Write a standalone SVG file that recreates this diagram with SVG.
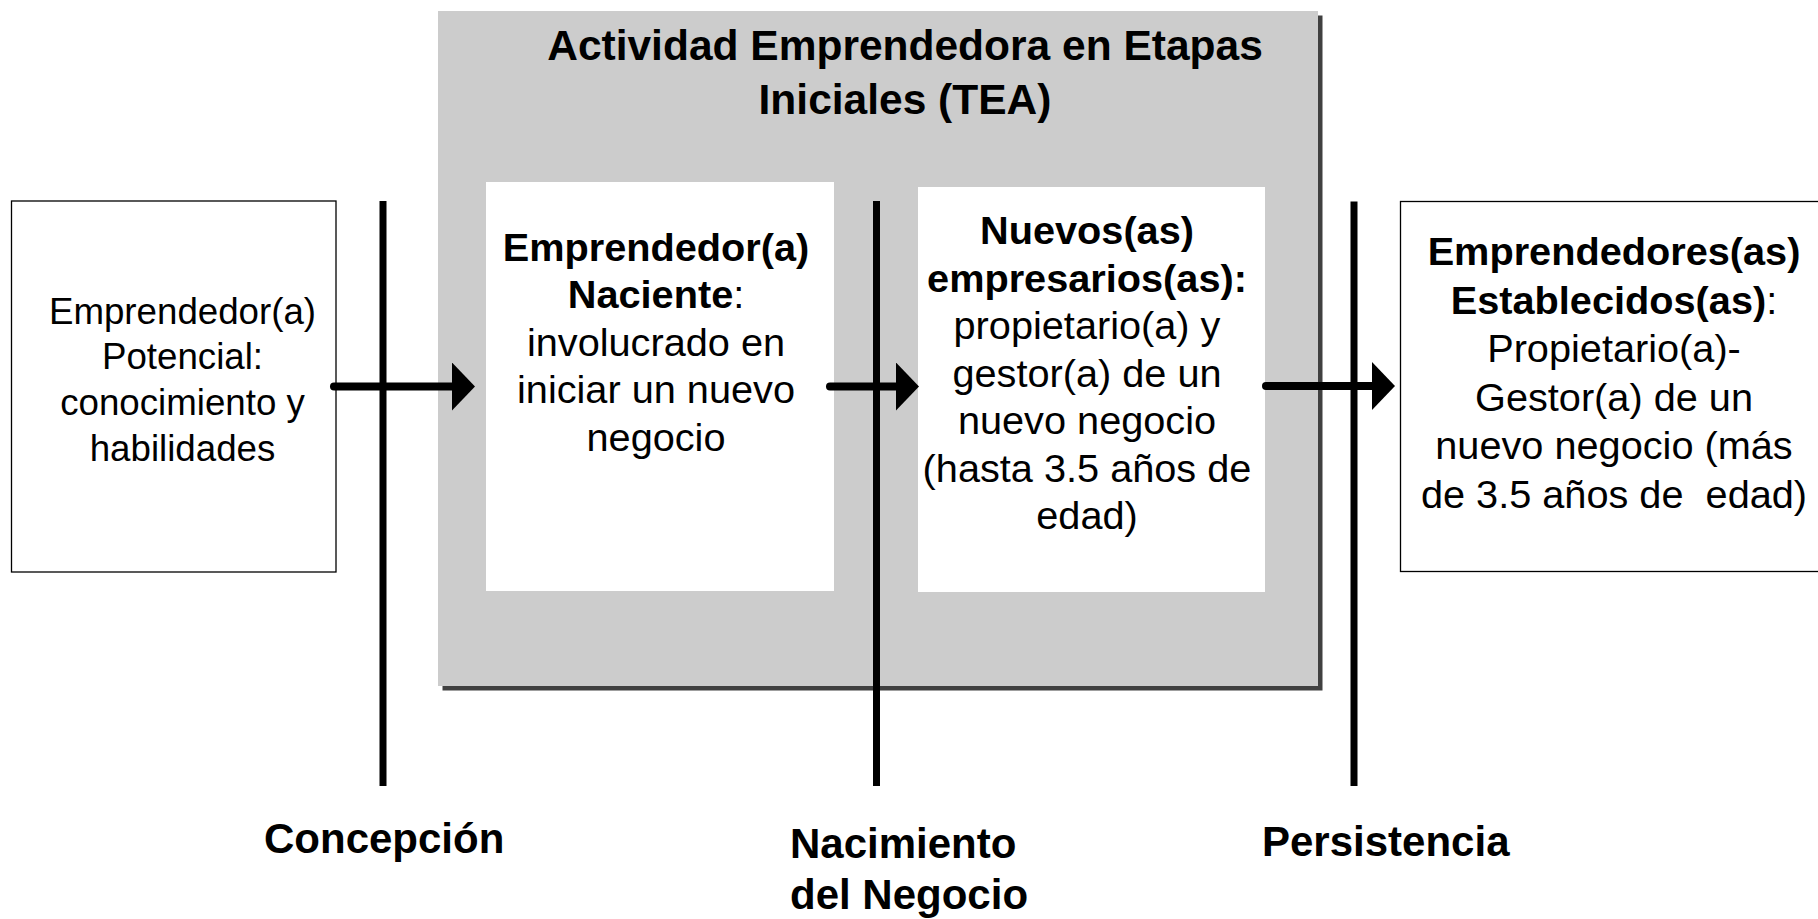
<svg xmlns="http://www.w3.org/2000/svg" width="1818" height="919" viewBox="0 0 1818 919">
<style>
text{font-family:"Liberation Sans",Arial,Helvetica,sans-serif;fill:#000}
.b{font-weight:bold}
.body{font-size:39.7px;text-anchor:middle}
.small{font-size:36.7px;text-anchor:middle}
.title{font-size:42.5px;font-weight:bold;text-anchor:middle}
.lbl{font-size:42px;font-weight:bold}
.box{fill:#fff;stroke:#000;stroke-width:1.3}
.inner{fill:#fff}
.vline{stroke:#000;stroke-width:7}
.arr{stroke:#000;stroke-width:8;stroke-linecap:round;fill:none}
</style>
<defs>
<marker id="ah" markerUnits="userSpaceOnUse" markerWidth="26" markerHeight="50" refX="0" refY="24" orient="auto">
<path d="M0,0 L23,24 L0,48 Z" fill="#000"/>
</marker>
</defs>

<g id="tea-group">
<rect x="442.5" y="15.5" width="880" height="675" fill="#404040"/>
<rect x="438" y="11" width="880" height="675" fill="#cccccc"/>
<text class="title" x="905" y="60">Actividad Emprendedora en Etapas</text>
<text class="title" x="905" y="114">Iniciales (TEA)</text>
</g>

<g id="node-potencial">
<rect class="box" x="11.5" y="201" width="324.5" height="371"/>
<text class="small" x="182.5" y="324">Emprendedor(a)</text>
<text class="small" x="182.5" y="369">Potencial:</text>
<text class="small" x="182.5" y="415">conocimiento y</text>
<text class="small" x="182.5" y="461">habilidades</text>
</g>

<g id="node-naciente">
<rect class="inner" x="486" y="182" width="348" height="409"/>
<text class="body b" x="656" y="261">Emprendedor(a)</text>
<text class="body" x="656" y="308"><tspan class="b">Naciente</tspan>:</text>
<text class="body" x="656" y="356">involucrado en</text>
<text class="body" x="656" y="403">iniciar un nuevo</text>
<text class="body" x="656" y="451">negocio</text>
</g>

<g id="node-nuevos">
<rect class="inner" x="918" y="187" width="347" height="405"/>
<text class="body b" x="1087" y="244">Nuevos(as)</text>
<text class="body b" x="1087" y="291.5">empresarios(as):</text>
<text class="body" x="1087" y="339">propietario(a) y</text>
<text class="body" x="1087" y="386.5">gestor(a) de un</text>
<text class="body" x="1087" y="434">nuevo negocio</text>
<text class="body" x="1087" y="481.5">(hasta 3.5 años de</text>
<text class="body" x="1087" y="529">edad)</text>
</g>

<g id="node-establecidos">
<rect class="box" x="1400.5" y="201.5" width="420" height="370"/>
<text class="body b" x="1614" y="265">Emprendedores(as)</text>
<text class="body" x="1614" y="313.5"><tspan class="b">Establecidos(as)</tspan>:</text>
<text class="body" x="1614" y="362">Propietario(a)-</text>
<text class="body" x="1614" y="410.5">Gestor(a) de un</text>
<text class="body" x="1614" y="459">nuevo negocio (más</text>
<text class="body" x="1614" y="507.5" xml:space="preserve">de 3.5 años de  edad)</text>
</g>

<g id="connectors">
<line class="vline" x1="383" y1="201" x2="383" y2="786"/>
<line class="vline" x1="876.5" y1="201" x2="876.5" y2="786"/>
<line class="vline" x1="1354" y1="201.5" x2="1354" y2="786"/>
<line class="arr" x1="334" y1="386.5" x2="452" y2="386.5" marker-end="url(#ah)"/>
<line class="arr" x1="830" y1="386.5" x2="896" y2="386.5" marker-end="url(#ah)"/>
<line class="arr" x1="1266" y1="386" x2="1372" y2="386" marker-end="url(#ah)"/>
</g>

<g id="milestone-labels">
<text class="lbl" x="264" y="853">Concepción</text>
<text class="lbl" x="790" y="858">Nacimiento</text>
<text class="lbl" x="790" y="909">del Negocio</text>
<text class="lbl" x="1262" y="856">Persistencia</text>
</g>
</svg>
